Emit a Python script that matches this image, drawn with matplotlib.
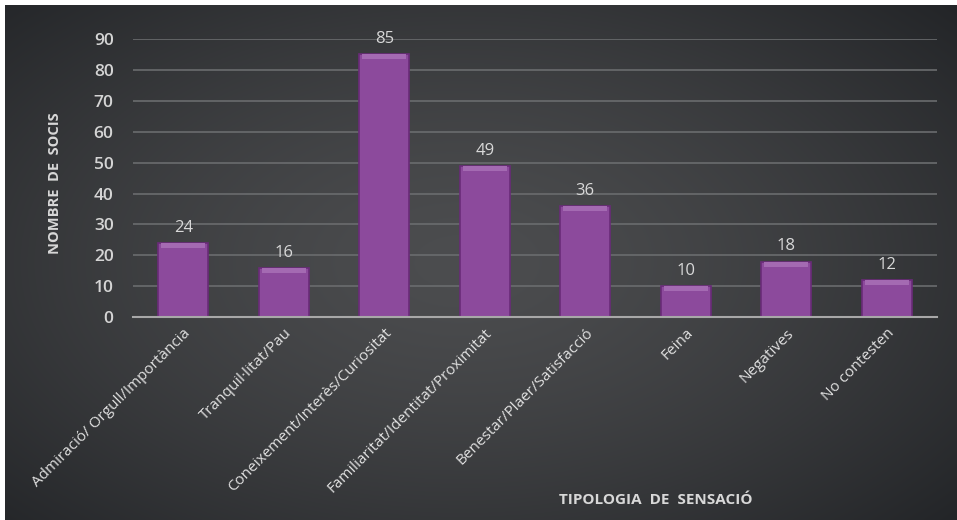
import numpy as np
import matplotlib
matplotlib.use("Agg")
import matplotlib.pyplot as plt

categories = ["Admiració/ Orgull/Importància", "Tranquil·litat/Pau",
              "Coneixement/Interès/Curiositat", "Familiaritat/Identitat/Proximitat",
              "Benestar/Plaer/Satisfacció", "Feina", "Negatives", "No contesten"]
socis = [24, 16, 85, 49, 36, 10, 18, 12]
yticks = list(range(0, 91, 10))

plt.rcParams['font.family'] = ['Open Sans', 'DejaVu Sans']

fig = plt.figure(figsize=(9.57, 5.2), dpi=100)
fig.patch.set_facecolor('white')

# dark radial gradient background
bg = fig.add_axes([5 / 957, 0, 952 / 957, 515 / 520], zorder=0)
yy, xx = np.mgrid[0:1:300j, 0:1:560j]
r = np.sqrt(((xx - 0.48) / 0.75) ** 2 + ((yy - 0.5) / 0.8) ** 2)
r = np.clip(r, 0, 1)
c0 = np.array([0x4c, 0x4d, 0x4f]) / 255
c1 = np.array([0x1f, 0x21, 0x24]) / 255
img = c0[None, None, :] * (1 - r[..., None] ** 1.4) + c1[None, None, :] * r[..., None] ** 1.4
bg.imshow(img, aspect='auto', extent=[0, 1, 0, 1], origin='lower')
bg.axis('off')

ax = fig.add_axes([0.139, 0.390, 0.840, 0.535], zorder=1)
ax.patch.set_alpha(0)

x = np.arange(len(categories))
ax.bar(x, socis, width=0.5, color='#8c4a9c', edgecolor='#6a2b79', linewidth=1.2, zorder=3)
# lighter bevel on top of each bar
ax.bar(x, [1.6] * len(x), bottom=[v - 1.6 for v in socis], width=0.44,
       color='#a46ab2', linewidth=0, zorder=4)

for xi, v in zip(x, socis):
    ax.text(xi, v + 2.3, str(v), ha='center', va='bottom', color='#d8d8d8', fontsize=12)

ax.set_ylim(0, 90)
ax.set_xlim(-0.5, len(categories) - 0.5)
ax.set_yticks(yticks)
ax.set_yticklabels([str(t) for t in yticks], color='#d4d4d4', fontsize=12.5, fontweight='semibold')
ax.yaxis.grid(True, color='#6a6c6e', linewidth=1.2, zorder=0)
ax.set_axisbelow(True)
ax.tick_params(axis='both', length=0)
ax.tick_params(axis='y', pad=14)

ax.set_xticks(x)
ax.set_xticklabels(categories, rotation=45, ha='right', rotation_mode='anchor',
                   color='#e0e0e0', fontsize=11)
ax.tick_params(axis='x', pad=6)

for s in ['top', 'right', 'left']:
    ax.spines[s].set_visible(False)
ax.spines['bottom'].set_color('#a8a8a8')
ax.spines['bottom'].set_linewidth(1.5)
ax.spines['bottom'].set_zorder(5)

fig.text(55 / 957, 1 - 183 / 520, "NOMBRE  DE  SOCIS", rotation=90, ha='center', va='center',
         color='#d8d8d8', fontsize=10.5, fontweight='bold')
fig.text(656 / 957, 1 - 500 / 520, "TIPOLOGIA  DE  SENSACIÓ", ha='center', va='center',
         color='#d8d8d8', fontsize=11, fontweight='bold')

fig.savefig("out.png", dpi=100, facecolor=fig.get_facecolor())
